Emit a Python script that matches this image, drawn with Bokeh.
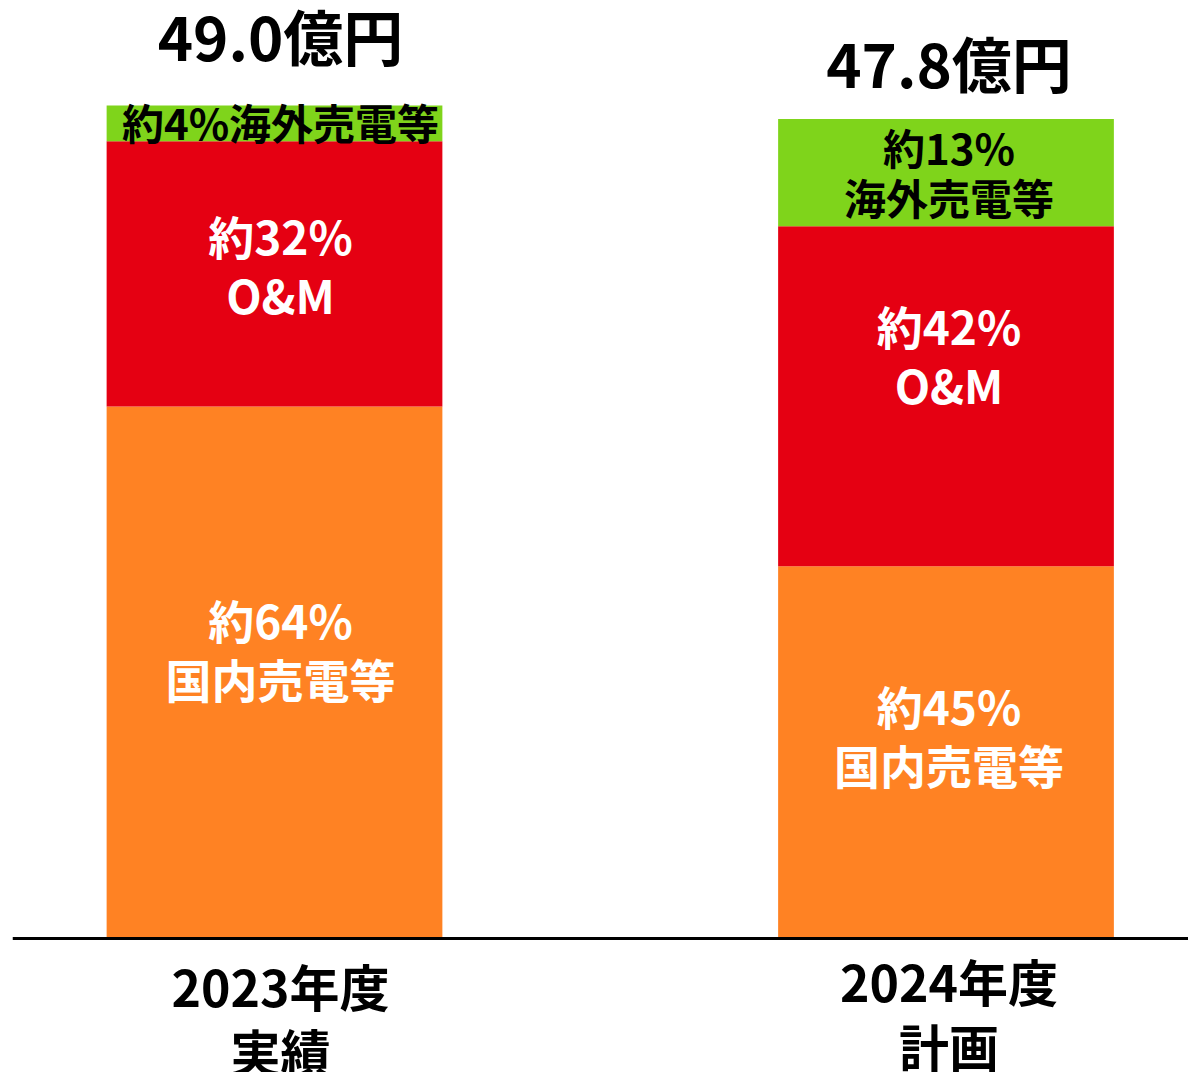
from bokeh.plotting import figure
from bokeh.models import ColumnDataSource, Range1d, FixedTicker
from bokeh.core.properties import value
from bokeh.embed import file_html
from bokeh.resources import INLINE

# ---- data ----
categories = ["2023年度\n実績", "2024年度\n計画"]
domestic = [31.3, 21.9]      # 国内売電等 (億円)
om = [15.6, 20.0]            # O&M
overseas = [2.1, 6.3]        # 海外売電等
total_labels = ["49.0億円", "47.8億円"]
domestic_labels = ["約64%\n国内売電等", "約45%\n国内売電等"]
om_labels = ["約32%\nO&M", "約42%\nO&M"]
overseas_labels = ["約4%海外売電等", "約13%\n海外売電等"]

# ---- styles ----
C_DOM = "#FF8223"
C_OM = "#E50012"
C_OV = "#7FD41B"
FONT = "Noto Sans CJK JP"
x_off = [6, 3]
dom_off = [-24, -18]
om_off = [-9, -42]
ov_off = [-2, -1]
tot_off = [-71, -58]
cat_off = [79, 74]

xs = list(range(len(categories)))
dom_top = [d for d in domestic]
om_top = [d + o for d, o in zip(domestic, om)]
ov_top = [d + o + g for d, o, g in zip(domestic, om, overseas)]

src = ColumnDataSource(dict(
    x=xs, zero=[0] * len(xs),
    dom_b=[0] * len(xs), dom_t=dom_top,
    om_b=dom_top, om_t=om_top,
    ov_b=om_top, ov_t=ov_top,
    dom_mid=[d / 2 for d in domestic],
    om_mid=[b + o / 2 for b, o in zip(dom_top, om)],
    ov_mid=[b + g / 2 for b, g in zip(om_top, overseas)],
    dom_lab=domestic_labels, om_lab=om_labels, ov_lab=overseas_labels,
    tot_lab=total_labels, cat_lab=categories,
    x_off=x_off,
    dom_off=dom_off, om_off=om_off, ov_off=ov_off, tot_off=tot_off, cat_off=cat_off,
))

W, H = 1188, 1072
LEFT = 12
ZERO_Y = 938
PX_PER_X = 671.5
PX_PER_Y = 17.0
x0 = -(274 - LEFT) / PX_PER_X
x1 = x0 + (W - LEFT) / PX_PER_X
y1 = ZERO_Y / PX_PER_Y
y0 = -(H - ZERO_Y) / PX_PER_Y

p = figure(width=W, height=H, output_backend="svg", toolbar_location=None,
           x_range=Range1d(x0, x1), y_range=Range1d(y0, y1),
           min_border_left=LEFT, min_border_right=0, min_border_top=0, min_border_bottom=0)
p.outline_line_color = None
p.grid.visible = False
p.yaxis.visible = False
p.background_fill_color = "white"
p.border_fill_color = "white"

p.vbar(x="x", bottom="dom_b", top="dom_t", width=0.5, source=src, fill_color=C_DOM, line_color=None)
p.vbar(x="x", bottom="om_b", top="om_t", width=0.5, source=src, fill_color=C_OM, line_color=None)
p.vbar(x="x", bottom="ov_b", top="ov_t", width=0.5, source=src, fill_color=C_OV, line_color=None)

common = dict(text_font=value(FONT), text_font_style="bold", text_align="center",
              text_baseline="middle", x_offset="x_off", source=src)
p.text(x="x", y="dom_mid", text="dom_lab", y_offset="dom_off", text_color="white",
       text_font_size="46px", text_line_height=0.89, **common)
p.text(x="x", y="om_mid", text="om_lab", y_offset="om_off", text_color="white",
       text_font_size="46px", text_line_height=0.89, **common)
p.text(x="x", y="ov_mid", text="ov_lab", y_offset="ov_off", text_color="black",
       text_font_size="42px", text_line_height=0.82, **common)
p.text(x="x", y="ov_t", text="tot_lab", y_offset="tot_off", text_color="black",
       text_font_size="60px", **common)
p.text(x="x", y="zero", text="cat_lab", y_offset="cat_off", text_color="black",
       text_font_size="50px", text_line_height=0.91, **common)

ax = p.xaxis[0]
ax.fixed_location = 0
ax.ticker = FixedTicker(ticks=xs)
ax.major_label_text_color = None
ax.axis_line_width = 3
ax.axis_line_color = "black"
ax.major_tick_line_color = None
ax.minor_tick_line_color = None

open("out.html", "w").write(file_html(p, INLINE))
